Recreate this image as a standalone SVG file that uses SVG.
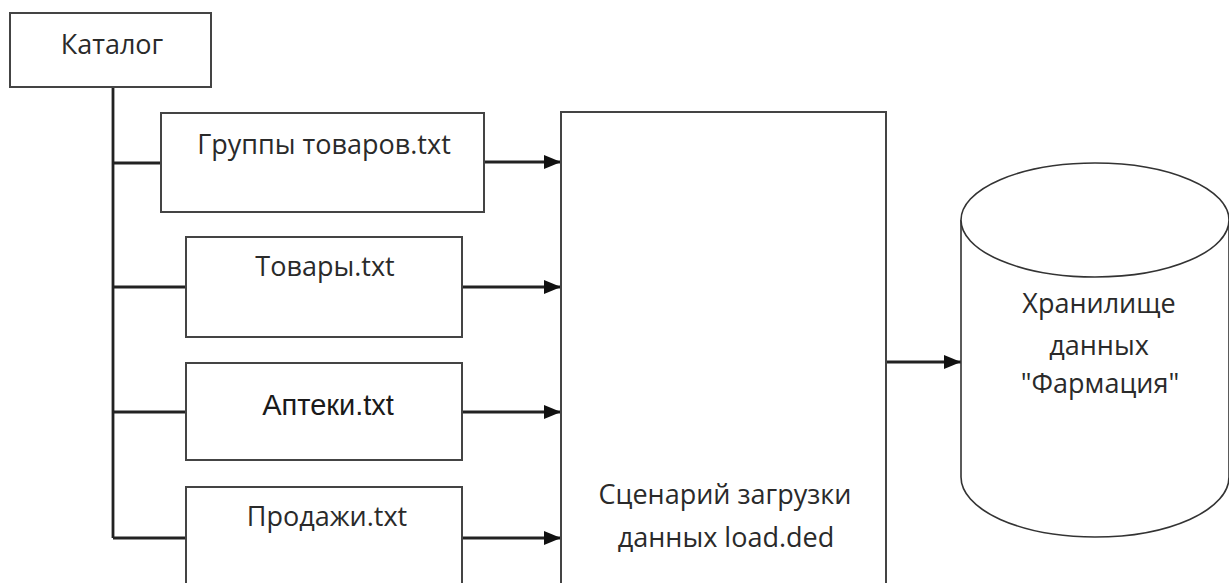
<svg xmlns="http://www.w3.org/2000/svg" width="1229" height="583" viewBox="0 0 1229 583">
<style>
.box{fill:#fff;stroke:#444;stroke-width:2}
.cyl{fill:#fff;stroke:#333;stroke-width:1.6}
.ln{fill:none;stroke:#222;stroke-width:2.8}
.t{font-family:"Open Sans","Noto Sans",sans-serif;font-size:27px;fill:#2a2a2a;text-anchor:middle}
.ta{font-family:"Liberation Sans",Arial,sans-serif;font-size:29px;fill:#1a1a1a;text-anchor:middle}
</style>
<defs>
<marker id="arr" viewBox="0 0 17 14" refX="17" refY="7" markerWidth="17" markerHeight="14" markerUnits="userSpaceOnUse" orient="auto">
<path d="M0,0 L17,7 L0,14 Z" fill="#111"/>
</marker>
</defs>
<rect width="1229" height="583" fill="#fff"/>
<g id="connectors">
<path class="ln" d="M113,87 V538"/>
<path class="ln" d="M113,163 H161"/>
<path class="ln" d="M113,287 H186"/>
<path class="ln" d="M113,412 H186"/>
<path class="ln" d="M113,538 H186"/>
<path class="ln" d="M484,162 H561" marker-end="url(#arr)"/>
<path class="ln" d="M462,287 H561" marker-end="url(#arr)"/>
<path class="ln" d="M462,412 H561" marker-end="url(#arr)"/>
<path class="ln" d="M462,538 H561" marker-end="url(#arr)"/>
<path class="ln" d="M886,362 H961" marker-end="url(#arr)"/>
</g>
<g id="katalog">
<rect class="box" x="10" y="13" width="201" height="74"/>
<text class="t" x="112" y="54">Каталог</text>
</g>
<g id="gruppy">
<rect class="box" x="161" y="113" width="323" height="99"/>
<text class="t" x="324" y="154">Группы товаров.txt</text>
</g>
<g id="tovary">
<rect class="box" x="186" y="237" width="276" height="100"/>
<text class="t" x="325" y="276">Товары.txt</text>
</g>
<g id="apteki">
<rect class="box" x="186" y="363" width="276" height="97"/>
<text class="ta" x="328" y="415">Аптеки.txt</text>
</g>
<g id="prodazhi">
<rect class="box" x="186" y="487" width="276" height="110"/>
<text class="t" x="327" y="526">Продажи.txt</text>
</g>
<g id="scenario">
<rect class="box" x="561" y="112" width="325" height="490"/>
<text class="t" x="725" y="504">Сценарий загрузки</text>
<text class="t" x="726" y="547">данных load.ded</text>
</g>
<g id="storage">
<path class="cyl" d="M961,220 V477 A134,60 0 0 0 1229,477 V220"/>
<ellipse class="cyl" cx="1095" cy="220" rx="134" ry="57"/>
<text class="t" x="1099" y="313">Хранилище</text>
<text class="t" x="1099" y="355">данных</text>
<text class="t" x="1100" y="393">"Фармация"</text>
</g>
</svg>
